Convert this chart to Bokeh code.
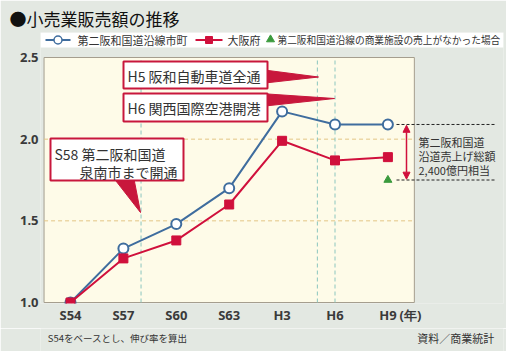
from bokeh.plotting import figure
from bokeh.models import Range1d, FixedTicker, Label, Arrow, NormalHead
from bokeh.layouts import column
from bokeh.core.properties import value
from bokeh.embed import file_html
from bokeh.resources import INLINE

# ---------------- data ----------------
categories = ["S54", "S57", "S60", "S63", "H3", "H6", "H9"]
cat_years = [1979, 1982, 1985, 1988, 1991, 1994, 1997]
corridor = [1.00, 1.33, 1.48, 1.70, 2.17, 2.09, 2.09]   # 第二阪和国道沿線市町
osaka = [1.00, 1.27, 1.38, 1.60, 1.99, 1.87, 1.89]      # 大阪府
no_sales_value = 1.75                                    # 商業施設の売上がなかった場合 (H9)
y_ticks = [1.0, 1.5, 2.0, 2.5]
y_tick_labels = ["1.0", "1.5", "2.0", "2.5"]
event_years = [1983, 1993, 1994]                         # S58, H5, H6
unit_label = "(年)"

# ---------------- styles ----------------
BG = "#e3e8e2"
CREAM = "#fefbe8"
BLUE = "#3f6d9e"
RED = "#d0103c"
CRIMSON = "#c8173c"
GREEN = "#3a9a3c"
TXT = "#333333"
JP = "Noto Sans CJK JP"

# pixel <-> data helpers (layout only)
X0PX, XPX = 70.0, 52.9
Y0PX, YPX = 302.0, 163.33
def X(px):
    return (px - X0PX) / XPX
def Y(py):
    return 1.0 + (Y0PX - py) / YPX

W = 506
H_MAIN = 328
H_FOOT = 351 - H_MAIN
FL, FR, FT, FB = 40, 503, 32, 303

idx = list(range(len(categories)))
def year_pos(y):
    return (y - cat_years[0]) / (cat_years[1] - cat_years[0])

p = figure(width=W, height=H_MAIN, x_range=Range1d(X(FL), X(FR)), y_range=Range1d(Y(FB), Y(FT)),
           output_backend="svg", toolbar_location=None, tools="",
           min_border_left=FL, min_border_right=W - FR, min_border_top=FT, min_border_bottom=H_MAIN - FB,
           background_fill_color=BG, border_fill_color=BG, outline_line_color=None)

# title (placed in the top border, shifted left of the frame)
p.title.text = "●小売業販売額の推移"
p.title.align = "left"
p.title.offset = 9 - FL
p.title.text_font = JP
p.title.text_font_size = "17px"
p.title.text_font_style = "normal"
p.title.text_color = "#111111"
p.title.standoff = 4

p.xgrid.grid_line_color = None
p.ygrid.grid_line_color = None

unit_pos = X(410)
p.xaxis.ticker = FixedTicker(ticks=idx + [unit_pos])
ov = {i: c for i, c in zip(idx, categories)}
ov[unit_pos] = unit_label
p.xaxis.major_label_overrides = ov
p.yaxis.ticker = FixedTicker(ticks=y_ticks)
p.yaxis.major_label_overrides = {v: t for v, t in zip(y_ticks, y_tick_labels)}
for ax in (p.xaxis, p.yaxis):
    ax.axis_line_color = None
    ax.major_tick_line_color = None
    ax.minor_tick_line_color = None
    ax.major_tick_out = 0
    ax.major_tick_in = 0
    ax.minor_tick_out = 0
    ax.minor_tick_in = 0
    ax.axis_label_standoff = 0
    ax.major_label_text_font = "Noto Sans"
    ax.major_label_text_font_style = "bold"
    ax.major_label_text_font_size = "13px"
    ax.major_label_text_color = "#3a3a3a"
p.xaxis.major_label_standoff = 2
p.yaxis.major_label_standoff = 2

# plot area
p.quad(left=-0.5, right=6.5, bottom=y_ticks[0], top=y_ticks[-1], fill_color=CREAM,
       line_color="#a59e8e", line_width=1)

# grid lines
for g in y_ticks[1:-1]:
    p.segment(x0=-0.5, x1=6.5, y0=g, y1=g, line_color="#e3c585", line_dash="4 3", line_width=1)
for ey in event_years:
    ex = year_pos(ey)
    p.segment(x0=ex, x1=ex, y0=y_ticks[0], y1=y_ticks[-1], line_color="#8cc6bf",
              line_dash="4 3", line_width=1)

# legend band
p.quad(left=X(40), right=X(503), top=Y(32), bottom=Y(47), fill_color="white", line_color=None)
p.segment(x0=X(45), x1=X(70), y0=Y(39.5), y1=Y(39.5), line_color=BLUE, line_width=2)
p.scatter(x=[X(57.5)], y=[Y(39.5)], marker="circle", size=8, fill_color="white",
          line_color=BLUE, line_width=1.5)
p.segment(x0=X(195), x1=X(222), y0=Y(39.5), y1=Y(39.5), line_color=RED, line_width=2)
p.scatter(x=[X(208.5)], y=[Y(39.5)], marker="square", size=7, fill_color=RED, line_color=RED)
p.scatter(x=[X(270)], y=[Y(39)], marker="triangle", size=8, fill_color=GREEN, line_color=GREEN)

# callout wedges
p.patches(xs=[[X(260), X(260), X(318)], [X(260), X(260), X(334)], [X(112), X(133), X(140)]],
          ys=[[Y(69), Y(83), Y(76.5)], [Y(93), Y(106), Y(98)], [Y(176), Y(176), Y(212)]],
          fill_color=CRIMSON, line_color=CRIMSON)
# callout boxes
p.quad(left=[X(123), X(123), X(50)], right=[X(267), X(267), X(183)],
       top=[Y(61), Y(93), Y(138)], bottom=[Y(88), Y(121), Y(180)],
       fill_color="white", line_color=CRIMSON, line_width=2)

# data series
p.line(idx, corridor, line_color=BLUE, line_width=2)
p.scatter(idx, corridor, marker="circle", size=10, fill_color="white", line_color=BLUE, line_width=2)
p.line(idx, osaka, line_color=RED, line_width=2)
p.scatter(idx, osaka, marker="square", size=9, fill_color=RED, line_color=RED)
p.scatter([idx[-1]], [no_sales_value], marker="triangle", size=8, fill_color=GREEN, line_color=GREEN)

# difference bracket
for v in (corridor[-1], no_sales_value):
    p.segment(x0=X(396), x1=X(494), y0=v, y1=v, line_color="#222222", line_dash="3 2", line_width=1)
p.add_layout(Arrow(start=NormalHead(size=7, fill_color=RED, line_color=RED),
                   end=NormalHead(size=7, fill_color=RED, line_color=RED),
                   x_start=X(406), y_start=corridor[-1] - 0.005, x_end=X(406), y_end=no_sales_value + 0.005,
                   line_color=RED, line_width=1.5))

def lab(px, py, text, size, align="left", color=TXT, font=JP, style="normal"):
    p.add_layout(Label(x=X(px), y=Y(py), text=text, text_font=font, text_font_size=f"{size}px",
                       text_align=align, text_baseline="middle", text_color=color,
                       text_font_style=style))

# legend texts
lab(77, 39.5, "第二阪和国道沿線市町", 11)
lab(227, 39.5, "大阪府", 11)
lab(277, 39.5, "第二阪和国道沿線の商業施設の売上がなかった場合", 9.7)

# callout texts
lab(127, 75.5, "H5 阪和自動車道全通", 14)
lab(127, 107, "H6 関西国際空港開港", 14)
lab(54, 153.5, "S58 第二阪和国道", 14)
lab(177, 171, "泉南市まで開通", 14, align="right")

# bracket note
lab(418, 141.5, "第二阪和国道", 11)
lab(418, 155, "沿道売上げ総額", 11)
lab(418, 169, "2,400億円相当", 11)

# ---------------- footer strip ----------------
f = figure(width=W, height=H_FOOT, x_range=Range1d(0, W), y_range=Range1d(H_FOOT, 0),
           output_backend="svg", toolbar_location=None, tools="",
           x_axis_type=None, y_axis_type=None,
           min_border_left=0, min_border_right=0, min_border_top=0, min_border_bottom=0,
           background_fill_color=BG, border_fill_color=BG, outline_line_color=None)
f.xgrid.grid_line_color = None
f.ygrid.grid_line_color = None
f.text(x=[496], y=[1], text=["資料／商業統計"], text_font=value(JP), text_font_size="11px",
       text_align="right", text_baseline="top", text_color=TXT)
f.text(x=[8], y=[337 - H_MAIN], text=["S54をベースとし、伸び率を算出"], text_font=value(JP),
       text_font_size="9.5px", text_align="left", text_baseline="middle", text_color=TXT)

layout = column(p, f, spacing=0)
open("out.html", "w").write(file_html(layout, INLINE))
